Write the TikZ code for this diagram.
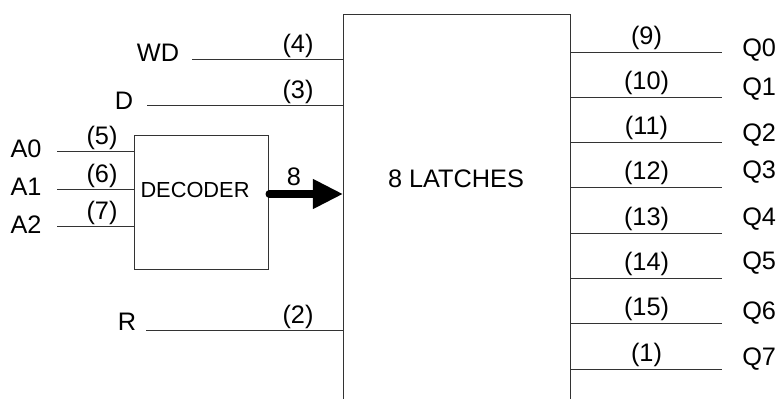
\documentclass[tikz,border=0pt]{standalone}
\usepackage{fontspec}
\setmainfont{Liberation Sans}
\usetikzlibrary{arrows.meta}

\tikzset{
  wire/.style={line width=0.7pt, draw=black!80},
  sig/.style={inner sep=0pt, font=\fontsize{18}{20}\selectfont},
  pinlbl/.style={anchor=south, inner sep=1pt, font=\fontsize{18}{20}\selectfont},
}

\begin{document}
\begin{tikzpicture}[x=0.025cm, y=-0.025cm]
  \useasboundingbox (0,0) rectangle (780,399);

  % the latch block, open at the bottom
  \node[wire, draw, anchor=north west, inner sep=0pt, minimum width=5.675cm, minimum height=10.5cm] (latch) at (343,14) {};
  \node[sig] (latchtxt) at (456,179) {8 LATCHES};

  % the decoder
  \node[wire, draw, anchor=north west, inner sep=0pt, minimum size=3.35cm] (dec) at (134,135) {};
  \node[sig, font=\fontsize{15.5}{17}\selectfont] (dectxt) at (195,190) {DECODER};

  % inputs straight into the latches
  \foreach \name/\cx/\sy/\lx/\ly/\pin in {WD/158/53/192/59/4, D/124/101/147/105/3, R/127/322/146/330/2} {
    \node[sig] (\name) at (\cx,\sy) {\name};
    \coordinate (\name in) at (\lx,\ly);
    \draw[wire] (\name in) -- (\name in -| latch.west);
    \node[pinlbl] at (298,\ly) {(\pin)};
  }

  % address inputs
  \foreach \a/\sy/\ly/\pin in {0/149/151/5, 1/187/189/6, 2/225/226/7} {
    \node[sig] (A\a) at (26,\sy) {A\a};
    \coordinate (A\a in) at (57,\ly);
    \draw[wire] (A\a in) -- (A\a in -| dec.west);
    \node[pinlbl] at (102,\ly) {(\pin)};
  }

  % decoder to latches, 8 lines
  \draw[line width=5pt, line cap=round, -{Triangle[length=0.75cm, width=0.7cm]}] (dec.east |- 0,194) -- (latch.west |- 0,194);
  \node[sig] (eight) at (294,177) {8};

  % outputs
  \foreach \q/\ly/\sy/\pin in {0/52/50/9, 1/97/89/10, 2/142/135/11, 3/187/172/12, 4/233/219/13, 5/278/263/14, 6/323/313/15, 7/369/359/1} {
    \coordinate (Q\q out) at (722,\ly);
    \node[sig, anchor=west] (Q\q) at (742,\sy) {Q\q};
    \draw[wire] (latch.east |- Q\q out) -- (Q\q out) node[pinlbl, midway] {(\pin)};
  }
\end{tikzpicture}
\end{document}
